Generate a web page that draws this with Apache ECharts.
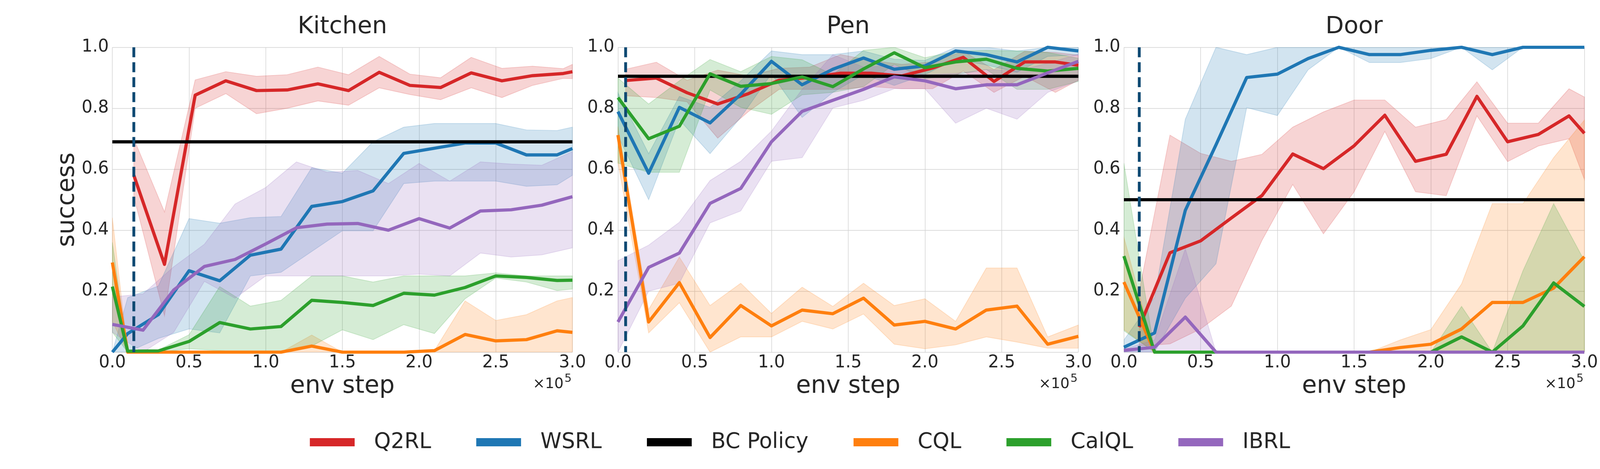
<!DOCTYPE html>
<html>
<head>
<meta charset="utf-8">
<script src="https://cdn.jsdelivr.net/npm/echarts@6/dist/echarts.min.js"></script>
<style>
html, body { margin: 0; padding: 0; background: #fff; overflow: hidden; }
</style>
</head>
<body>
<div id="box"></div>
<script>
// step axis is in units of 1e5 env steps
var xEven = [0, 0.2, 0.4, 0.6, 0.8, 1.0, 1.2, 1.4, 1.6, 1.8, 2.0, 2.2, 2.4, 2.6, 2.8, 3.0];

// ---- Kitchen ----
var kitQ2X = [0.14, 0.34, 0.54, 0.74, 0.94, 1.14, 1.34, 1.54, 1.74, 1.94, 2.14, 2.34, 2.54, 2.74, 2.94, 3.0];
var kitQ2 = [0.58, 0.288, 0.843, 0.89, 0.858, 0.86, 0.88, 0.858, 0.918, 0.875, 0.868, 0.916, 0.89, 0.907, 0.914, 0.92];
var kitQ2Hi = [0.70, 0.46, 0.893, 0.92, 0.905, 0.91, 0.935, 0.91, 0.97, 0.912, 0.90, 0.967, 0.931, 0.938, 0.93, 0.944];
var kitQ2Lo = [0.51, 0.119, 0.80, 0.848, 0.782, 0.80, 0.824, 0.81, 0.867, 0.845, 0.828, 0.867, 0.835, 0.875, 0.898, 0.897];

var kitX = [0, 0.1, 0.3, 0.5, 0.7, 0.9, 1.1, 1.3, 1.5, 1.7, 1.9, 2.1, 2.3, 2.5, 2.7, 2.9, 3.0];
var kitWs = [0, 0.061, 0.123, 0.267, 0.234, 0.318, 0.338, 0.478, 0.494, 0.529, 0.652, 0.669, 0.686, 0.686, 0.647, 0.647, 0.668];
var kitWsHi = [0, 0.179, 0.217, 0.438, 0.423, 0.441, 0.445, 0.605, 0.587, 0.69, 0.738, 0.75, 0.75, 0.75, 0.729, 0.727, 0.738];
var kitWsLo = [0, 0, 0.045, 0.076, 0.063, 0.25, 0.262, 0.33, 0.398, 0.398, 0.553, 0.561, 0.561, 0.561, 0.544, 0.549, 0.58];
var kitCql = [0.294, 0, 0, 0, 0, 0, 0, 0.02, 0, 0, 0, 0.005, 0.058, 0.037, 0.041, 0.07, 0.065];
var kitCqlHi = [0.441, 0, 0, 0, 0, 0, 0, 0.056, 0, 0, 0, 0.005, 0.168, 0.104, 0.123, 0.168, 0.179];
var kitCqlLo = [0.10, 0, 0, 0, 0, 0, 0, 0, 0, 0, 0, 0, 0, 0, 0, 0, 0];
var kitCal = [0.215, 0.003, 0.004, 0.035, 0.097, 0.076, 0.084, 0.17, 0.163, 0.153, 0.193, 0.187, 0.212, 0.25, 0.245, 0.235, 0.236];
var kitCalHi = [0.36, 0.003, 0.007, 0.057, 0.215, 0.151, 0.17, 0.25, 0.25, 0.23, 0.25, 0.25, 0.25, 0.26, 0.25, 0.25, 0.25];
var kitCalLo = [0.065, 0, 0, 0.011, 0.005, 0, 0, 0.02, 0.073, 0.041, 0.09, 0.061, 0.175, 0.243, 0.23, 0.202, 0.207];

var kitIb = [0.091, 0.072, 0.204, 0.281, 0.304, 0.355, 0.408, 0.42, 0.422, 0.40, 0.438, 0.407, 0.463, 0.467, 0.482, 0.51];
var kitIbHi = [0.181, 0.191, 0.28, 0.354, 0.486, 0.54, 0.624, 0.59, 0.596, 0.553, 0.619, 0.561, 0.624, 0.617, 0.613, 0.658];
var kitIbLo = [0.065, 0, 0.065, 0.232, 0.177, 0.25, 0.25, 0.25, 0.25, 0.25, 0.256, 0.25, 0.325, 0.312, 0.319, 0.342];

// ---- Pen ----
var penQ2X = [0.05, 0.25, 0.45, 0.65, 0.85, 1.05, 1.25, 1.45, 1.65, 1.85, 2.05, 2.25, 2.45, 2.65, 2.85, 3.0];
var penQ2 = [0.891, 0.899, 0.851, 0.814, 0.848, 0.892, 0.901, 0.915, 0.915, 0.906, 0.932, 0.967, 0.888, 0.952, 0.952, 0.941];
var penQ2Hi = [0.928, 0.951, 0.892, 0.925, 0.906, 0.931, 0.935, 0.976, 0.957, 0.944, 0.952, 0.987, 0.927, 0.987, 0.983, 0.974];
var penQ2Lo = [0.841, 0.835, 0.821, 0.702, 0.789, 0.862, 0.862, 0.862, 0.871, 0.864, 0.864, 0.922, 0.852, 0.905, 0.852, 0.892];

var penWs = [0.789, 0.587, 0.803, 0.752, 0.846, 0.954, 0.877, 0.928, 0.965, 0.928, 0.939, 0.988, 0.976, 0.952, 1.0, 0.988];
var penWsHi = [0.851, 0.651, 0.839, 0.803, 0.89, 0.988, 0.976, 0.976, 0.988, 0.961, 0.957, 1.0, 1.0, 0.988, 1.0, 1.0];
var penWsLo = [0.71, 0.5, 0.762, 0.651, 0.77, 0.913, 0.77, 0.852, 0.91, 0.875, 0.91, 0.961, 0.942, 0.918, 0.97, 0.975];
var penCql = [0.712, 0.099, 0.228, 0.048, 0.153, 0.086, 0.138, 0.126, 0.177, 0.089, 0.101, 0.076, 0.138, 0.151, 0.026, 0.052];
var penCqlHi = [0.74, 0.14, 0.312, 0.153, 0.226, 0.127, 0.213, 0.15, 0.226, 0.153, 0.175, 0.101, 0.276, 0.276, 0.05, 0.089];
var penCqlLo = [0.622, 0.063, 0.162, 0, 0.05, 0.05, 0.101, 0.076, 0.125, 0.026, 0.011, 0.024, 0.05, 0.033, 0.013, 0.013];
var penCal = [0.835, 0.70, 0.741, 0.913, 0.872, 0.881, 0.903, 0.871, 0.929, 0.982, 0.933, 0.952, 0.961, 0.931, 0.922, 0.931];
var penCalHi = [0.899, 0.814, 0.89, 0.96, 0.92, 0.97, 0.959, 0.91, 0.99, 1.0, 0.966, 0.987, 0.99, 0.988, 0.983, 0.964];
var penCalLo = [0.62, 0.59, 0.59, 0.86, 0.803, 0.78, 0.844, 0.852, 0.871, 0.944, 0.897, 0.91, 0.927, 0.862, 0.862, 0.888];
var penIb = [0.099, 0.278, 0.325, 0.488, 0.537, 0.69, 0.79, 0.826, 0.862, 0.903, 0.89, 0.864, 0.877, 0.877, 0.916, 0.954];
var penIbHi = [0.30, 0.351, 0.426, 0.563, 0.626, 0.725, 0.862, 0.976, 0.935, 0.94, 0.91, 0.914, 0.927, 0.922, 0.948, 0.978];
var penIbLo = [0, 0.2, 0.226, 0.424, 0.463, 0.626, 0.638, 0.801, 0.826, 0.864, 0.864, 0.751, 0.80, 0.764, 0.852, 0.89];

// ---- Door ----
var doorQ2X = [0.1, 0.3, 0.5, 0.7, 0.9, 1.1, 1.3, 1.5, 1.7, 1.9, 2.1, 2.3, 2.5, 2.7, 2.9, 3.0];
var doorQ2 = [0.082, 0.326, 0.365, 0.44, 0.514, 0.65, 0.602, 0.677, 0.777, 0.626, 0.649, 0.839, 0.69, 0.714, 0.775, 0.718];
var doorQ2Hi = [0.2, 0.712, 0.652, 0.626, 0.649, 0.738, 0.788, 0.827, 0.827, 0.738, 0.763, 0.887, 0.751, 0.751, 0.864, 0.837];
var doorQ2Lo = [0.02, 0.027, 0.076, 0.151, 0.367, 0.55, 0.388, 0.526, 0.724, 0.526, 0.513, 0.775, 0.625, 0.676, 0.70, 0.567];

var doorWs = [0.016, 0.063, 0.465, 0.68, 0.901, 0.912, 0.963, 1.0, 0.976, 0.976, 0.99, 1.0, 0.976, 1.0, 1.0, 1.0];
var doorWsHi = [0.04, 0.18, 0.764, 1.0, 0.976, 1.0, 1.0, 1.0, 1.0, 1.0, 1.0, 1.0, 1.0, 1.0, 1.0, 1.0];
var doorWsLo = [0, 0, 0.177, 0.29, 0.802, 0.776, 0.926, 1.0, 0.95, 0.95, 0.963, 1.0, 0.926, 1.0, 1.0, 1.0];
var doorCql = [0.23, 0, 0, 0, 0, 0, 0, 0, 0, 0.015, 0.026, 0.076, 0.163, 0.163, 0.21, 0.313];
var doorCqlHi = [0.377, 0, 0, 0, 0, 0, 0, 0, 0, 0.04, 0.074, 0.224, 0.487, 0.487, 0.638, 0.761];
var doorCqlLo = [0.074, 0, 0, 0, 0, 0, 0, 0, 0, 0, 0, 0, 0, 0, 0, 0];
var doorCal = [0.315, 0, 0, 0, 0, 0, 0, 0, 0, 0, 0, 0.05, 0, 0.086, 0.227, 0.15];
var doorCalHi = [0.62, 0, 0, 0, 0, 0, 0, 0, 0, 0, 0, 0.15, 0, 0.267, 0.487, 0.30];
var doorCalLo = [0.07, 0, 0, 0, 0, 0, 0, 0, 0, 0, 0, 0, 0, 0, 0, 0];
var doorIb = [0.006, 0.016, 0.115, 0, 0, 0, 0, 0, 0, 0, 0, 0, 0, 0, 0, 0];
var doorIbHi = [0.01, 0.04, 0.339, 0, 0, 0, 0, 0, 0, 0, 0, 0, 0, 0, 0, 0];
var doorIbLo = [0, 0, 0, 0, 0, 0, 0, 0, 0, 0, 0, 0, 0, 0, 0, 0];

// BC policy level and end of offline phase (dashed line) per task
var titles = ['Kitchen', 'Pen', 'Door'];
var bcLevel = [0.69, 0.905, 0.50];
var offlineEnd = [0.14, 0.05, 0.10];

var methods = ['Q2RL', 'WSRL', 'BC Policy', 'CQL', 'CalQL', 'IBRL'];
var colors = {
    'Q2RL': '#d62728',
    'WSRL': '#1f77b4',
    'BC Policy': '#000000',
    'CQL': '#ff7f0e',
    'CalQL': '#2ca02c',
    'IBRL': '#9467bd'
};
var fills = {
    'Q2RL': 'rgba(214,39,40,0.2)',
    'WSRL': 'rgba(31,119,180,0.2)',
    'CQL': 'rgba(255,127,14,0.2)',
    'CalQL': 'rgba(44,160,44,0.2)',
    'IBRL': 'rgba(148,103,189,0.2)'
};

var runs = [
    [['Q2RL', kitQ2X, kitQ2, kitQ2Lo, kitQ2Hi], ['WSRL', kitX, kitWs, kitWsLo, kitWsHi],
     ['CQL', kitX, kitCql, kitCqlLo, kitCqlHi], ['CalQL', kitX, kitCal, kitCalLo, kitCalHi],
     ['IBRL', xEven, kitIb, kitIbLo, kitIbHi]],
    [['Q2RL', penQ2X, penQ2, penQ2Lo, penQ2Hi], ['WSRL', xEven, penWs, penWsLo, penWsHi],
     ['CQL', xEven, penCql, penCqlLo, penCqlHi], ['CalQL', xEven, penCal, penCalLo, penCalHi],
     ['IBRL', xEven, penIb, penIbLo, penIbHi]],
    [['Q2RL', doorQ2X, doorQ2, doorQ2Lo, doorQ2Hi], ['WSRL', xEven, doorWs, doorWsLo, doorWsHi],
     ['CQL', xEven, doorCql, doorCqlLo, doorCqlHi], ['CalQL', xEven, doorCal, doorCalLo, doorCalHi],
     ['IBRL', xEven, doorIb, doorIbLo, doorIbHi]]
];

// layout is worked out for a 4500x1200 canvas, then fitted to the window
var W = window.innerWidth || 4500;
var H = window.innerHeight || 1200;
var sx = W / 4500, sy = H / 1200, sf = Math.min(sx, sy);
function X(v) { return v * sx; }
function Y(v) { return v * sy; }
function F(v) { return v * sf; }

var box = document.getElementById('box');
box.style.width = W + 'px';
box.style.height = H + 'px';

var FONT = 'DejaVu Sans';
var INK = '#262626';
var gridPx = [[316, 1294], [1738, 1295], [3161, 1295]];
var grids = gridPx.map(function (g) {
    return { left: X(g[0]), top: Y(121), width: X(g[1]), height: Y(780) };
});

function pairs(xs, ys) {
    return xs.map(function (x, i) { return [x, ys[i]]; });
}

// shaded spread, drawn as one polygon through the axis scale
function band(gi, xs, lo, hi, fill) {
    return {
        type: 'custom',
        xAxisIndex: gi,
        yAxisIndex: gi,
        z: 1,
        clip: true,
        silent: true,
        data: xs.map(function (x, i) { return [x, lo[i], hi[i]]; }),
        encode: { x: 0, y: [1, 2] },
        renderItem: function (params, api) {
            if (params.dataIndex !== 0) return null;
            var p = [];
            for (var i = 0; i < xs.length; i++) p.push(api.coord([xs[i], hi[i]]));
            for (var j = xs.length - 1; j >= 0; j--) p.push(api.coord([xs[j], lo[j]]));
            return {
                type: 'polygon',
                shape: { points: p },
                style: { fill: fill, stroke: fill, lineWidth: F(2) }
            };
        }
    };
}

function line(gi, name, data) {
    return {
        type: 'line',
        name: name,
        xAxisIndex: gi,
        yAxisIndex: gi,
        z: 2,
        data: data,
        showSymbol: false,
        silent: true,
        itemStyle: { color: colors[name] },
        lineStyle: { color: colors[name], width: F(9), join: 'round' }
    };
}

function label(text, x, y, size, align, rot) {
    var el = {
        type: 'text', x: x, y: y,
        style: {
            text: text, fontSize: size, fontFamily: FONT, fill: INK,
            align: align, verticalAlign: 'middle', textAlign: align, textVerticalAlign: 'middle'
        }
    };
    if (rot) el.rotation = rot;
    return el;
}

var xAxes = [], yAxes = [], series = [], graphics = [];
for (var g = 0; g < 3; g++) {
    xAxes.push({
        type: 'value', gridIndex: g, min: 0, max: 3, interval: 0.5,
        axisLine: { show: false }, axisTick: { show: false },
        axisLabel: {
            margin: Y(6), fontSize: F(48), fontFamily: FONT, color: INK,
            formatter: function (v) { return v.toFixed(1); }
        },
        splitLine: { show: true, lineStyle: { color: '#d0d0d0', width: F(1.5) } }
    });
    yAxes.push({
        type: 'value', gridIndex: g, min: 0, max: 1, interval: 0.2,
        axisLine: { show: false }, axisTick: { show: false },
        axisLabel: {
            margin: X(10), fontSize: F(48), fontFamily: FONT, color: INK, showMinLabel: false,
            formatter: function (v) { return v.toFixed(1); }
        },
        splitLine: { show: true, lineStyle: { color: '#d0d0d0', width: F(1.5) } }
    });

    var r = runs[g];
    for (var k = 0; k < r.length; k++) {
        series.push(band(g, r[k][1], r[k][3], r[k][4], fills[r[k][0]]));
    }
    // lines in legend order, later ones on top
    series.push(line(g, 'Q2RL', pairs(r[0][1], r[0][2])));
    series.push(line(g, 'WSRL', pairs(r[1][1], r[1][2])));
    series.push(line(g, 'BC Policy', [[0, bcLevel[g]], [3, bcLevel[g]]]));
    series.push(line(g, 'CQL', pairs(r[2][1], r[2][2])));
    series.push(line(g, 'CalQL', pairs(r[3][1], r[3][2])));
    series.push(line(g, 'IBRL', pairs(r[4][1], r[4][2])));
    series.push({
        type: 'line', xAxisIndex: g, yAxisIndex: g, z: 3, silent: true,
        data: [[offlineEnd[g], 1], [offlineEnd[g], 0]],
        showSymbol: false,
        lineStyle: { color: '#0f4a73', width: F(8), type: [F(28), F(14)] }
    });

    var cx = gridPx[g][0] + gridPx[g][1] / 2;
    var right = gridPx[g][0] + gridPx[g][1];
    graphics.push(label(titles[g], X(cx), Y(69), F(67), 'center'));
    graphics.push(label('env step', X(cx), Y(989), F(68), 'center'));
    graphics.push(label('\u00d710', X(right - 25), Y(983), F(41), 'right'));
    graphics.push(label('5', X(right - 2), Y(969), F(32), 'right'));
}
graphics.push(label('success', X(190), Y(511), F(68), 'center', Math.PI / 2));

var myChart = echarts.init(box);
var option = {
    backgroundColor: '#ffffff',
    animation: false,
    grid: grids,
    xAxis: xAxes,
    yAxis: yAxes,
    legend: {
        data: methods,
        left: 'center',
        top: Y(1104),
        padding: 0,
        icon: 'rect',
        itemWidth: X(126),
        itemHeight: Y(21),
        itemGap: X(127),
        textStyle: { fontSize: F(60), fontFamily: FONT, color: INK, padding: [0, 0, 0, X(49)], lineHeight: F(60) }
    },
    graphic: graphics,
    series: series
};
myChart.setOption(option);
</script>
</body>
</html>
